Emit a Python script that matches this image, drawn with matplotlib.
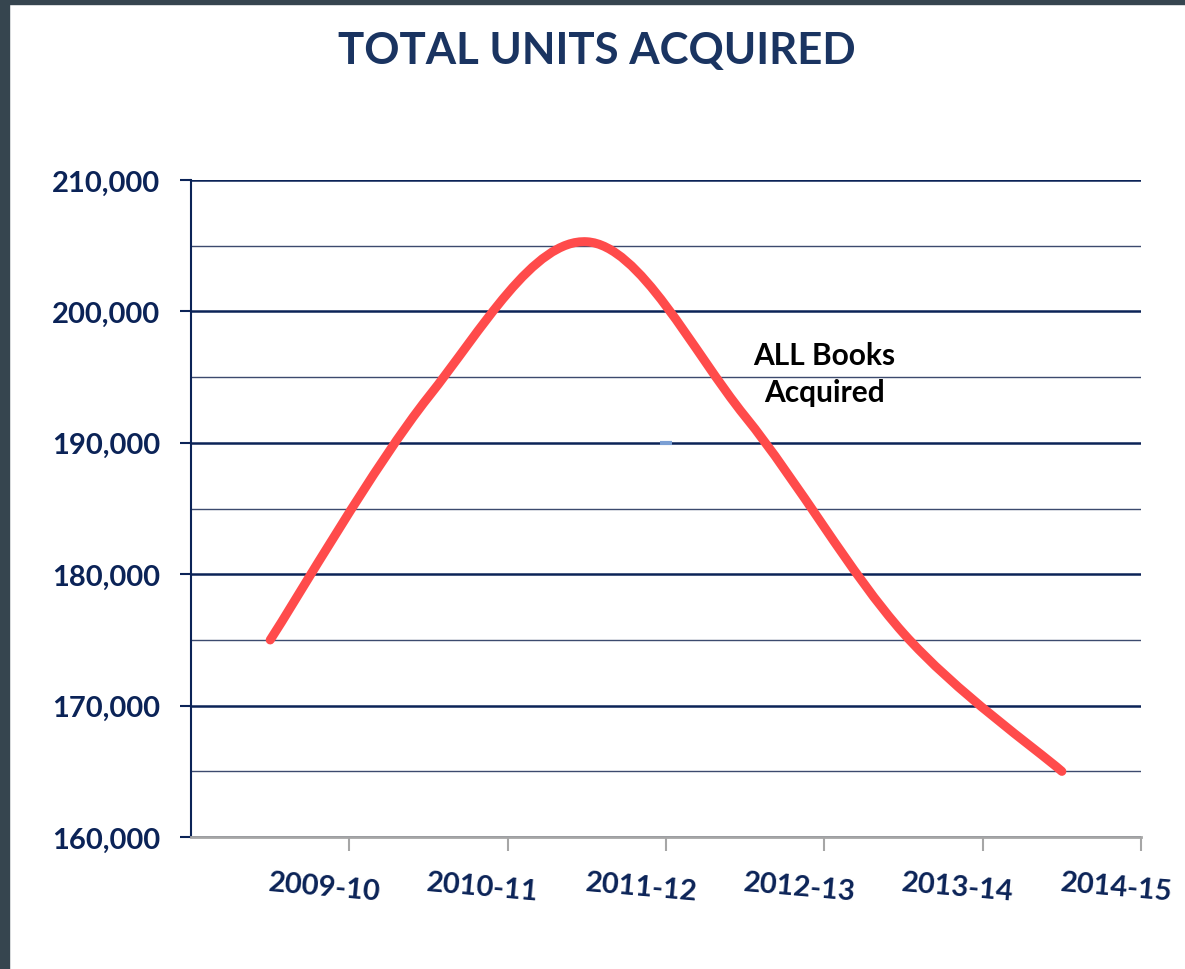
import matplotlib
matplotlib.use("Agg")
from matplotlib import pyplot as plt
from matplotlib.path import Path
from matplotlib.patches import PathPatch, Rectangle
from matplotlib.ticker import MultipleLocator, FuncFormatter
import matplotlib.transforms as mtransforms

# data
years = ["2009-10", "2010-11", "2011-12", "2012-13", "2013-14", "2014-15"]
units = [175000, 193500, 205300, 192000, 175500, 165000]

navy = "#0b2357"
red = "#ff4b4b"

plt.rcParams['font.family'] = ['Lato', 'DejaVu Sans']

fig = plt.figure(figsize=(11.85, 9.70), dpi=100)
ax = fig.add_axes([0.1612, 0.136, 0.8017, 0.6774])

# dark frame strips at left and top edge
fig.patches.append(Rectangle((0, 0), 9 / 1185, 1, transform=fig.transFigure,
                             color="#36454f", zorder=10))
fig.patches.append(Rectangle((0, 1 - 5 / 970), 1, 5 / 970, transform=fig.transFigure,
                             color="#36454f", zorder=10))

# smoothed line (Catmull-Rom as cubic bezier, like a spreadsheet "smoothed line")
xs = list(range(len(units)))
pts = list(zip(xs, units))
verts = [pts[0]]
codes = [Path.MOVETO]
for i in range(len(pts) - 1):
    p0 = pts[max(i - 1, 0)]
    p1 = pts[i]
    p2 = pts[i + 1]
    p3 = pts[min(i + 2, len(pts) - 1)]
    c1 = (p1[0] + (p2[0] - p0[0]) / 6, p1[1] + (p2[1] - p0[1]) / 6)
    c2 = (p2[0] - (p3[0] - p1[0]) / 6, p2[1] - (p3[1] - p1[1]) / 6)
    verts += [c1, c2, p2]
    codes += [Path.CURVE4] * 3
curve = PathPatch(Path(verts, codes), facecolor="none", edgecolor=red,
                  lw=6.5, capstyle="round", joinstyle="round", zorder=3)
ax.add_patch(curve)

# little stray marker seen in the original
ax.plot([2.5], [190000], marker="_", ms=8, mew=3, color="#7a9fd4", zorder=2)

ax.set_xlim(-0.5, 5.5)
ax.set_ylim(160000, 210000)

# y axis and gridlines
ax.yaxis.set_major_locator(MultipleLocator(10000))
ax.yaxis.set_minor_locator(MultipleLocator(5000))
ax.yaxis.set_major_formatter(FuncFormatter(lambda v, p: f"{int(v):,}"))
ax.grid(axis="y", which="major", color=navy, lw=1.8, zorder=1)
ax.grid(axis="y", which="minor", color="#3c4a6e", lw=1.0, zorder=1)
ax.tick_params(axis="y", which="major", length=8, width=1.5, color=navy, pad=14,
               labelsize=21, labelcolor=navy)
ax.tick_params(axis="y", which="minor", length=0)
for lab in ax.get_yticklabels():
    lab.set_fontweight("bold")

# x axis: ticks between categories, labels sitting near the ticks
ax.set_xticks([i + 0.5 for i in xs])
ax.set_xticklabels(years, fontsize=21, fontweight="bold", color=navy,
                   rotation=-5, rotation_mode="anchor", ha="center", va="center")
ax.tick_params(axis="x", length=10, width=1.5, color="#a6a6a6", pad=26)
offset = mtransforms.ScaledTranslation(-25 / 100, 0, fig.dpi_scale_trans)
for lab in ax.get_xticklabels():
    lab.set_transform(lab.get_transform() + offset)

ax.spines["top"].set_visible(False)
ax.spines["right"].set_visible(False)
ax.spines["left"].set_color(navy)
ax.spines["left"].set_linewidth(1.5)
ax.spines["bottom"].set_color("#a6a6a6")
ax.spines["bottom"].set_linewidth(2)

# annotation
ax.text(3.5, 195300, "ALL Books\nAcquired", ha="center", va="center",
        fontsize=21.5, fontweight="bold", color="black", linespacing=1.4)

fig.text(0.504, 0.947, "TOTAL UNITS ACQUIRED", ha="center", va="center",
         fontsize=31.5, fontweight="bold", color="#1a3461")

fig.savefig("out.png", dpi=100, facecolor="white")
